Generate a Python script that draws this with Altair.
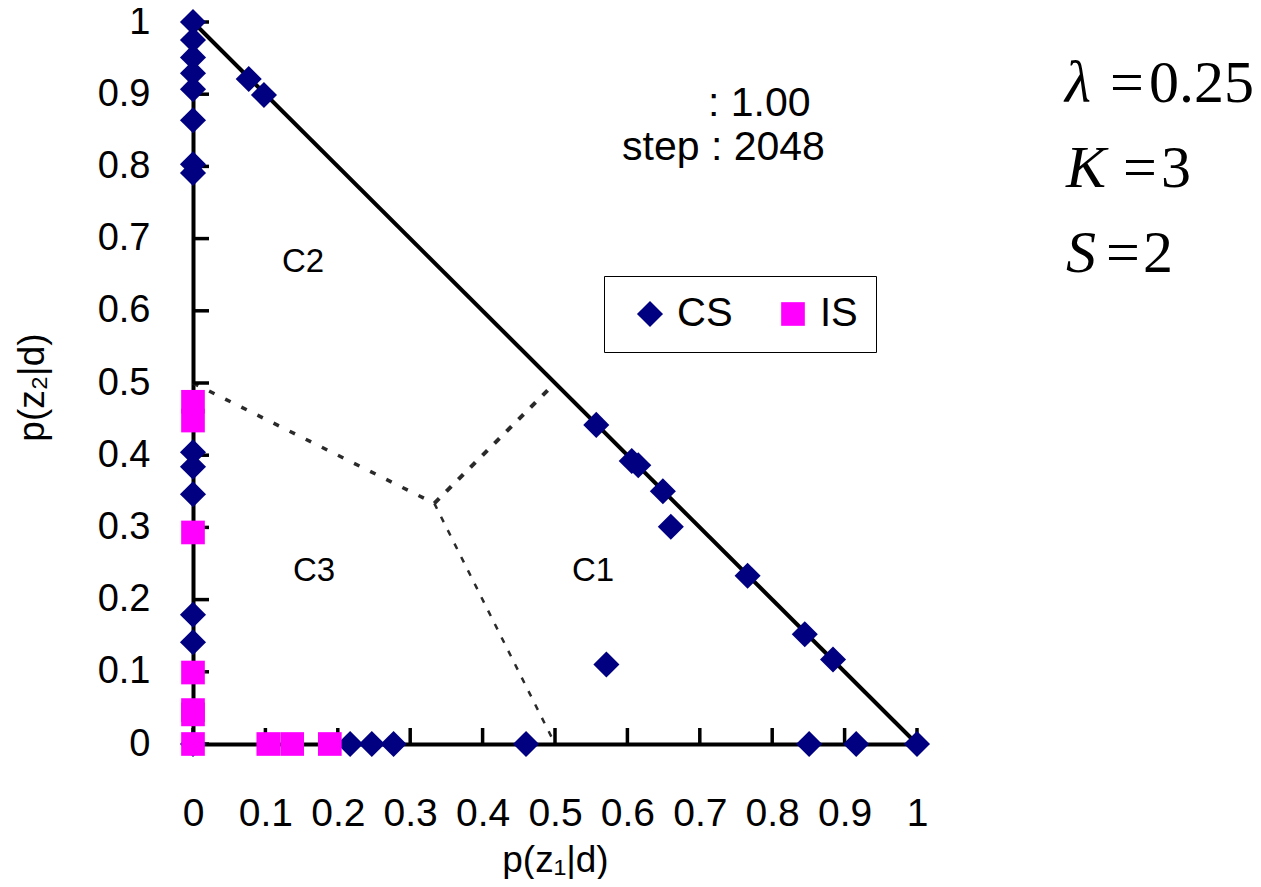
import altair as alt
import pandas as pd

# ---- data ----
cs_x = [0, 0, 0, 0, 0, 0, 0, 0, 0, 0, 0, 0, 0, 0,
        0.077, 0.098, 0.557, 0.606, 0.615, 0.649, 0.766, 0.845, 0.884, 1.0,
        0.660, 0.571,
        0.217, 0.247, 0.277, 0.460, 0.851, 0.916]
cs_y = [1.0, 0.975, 0.951, 0.929, 0.907, 0.864, 0.803, 0.791, 0.404, 0.384, 0.346, 0.179, 0.141, 0.0,
        0.921, 0.899, 0.442, 0.392, 0.386, 0.350, 0.233, 0.152, 0.117, 0.0,
        0.301, 0.110,
        0, 0, 0, 0, 0, 0]
is_x = [0, 0, 0, 0, 0, 0, 0, 0.104, 0.137, 0.189]
is_y = [0.474, 0.448, 0.293, 0.099, 0.047, 0.041, 0.0, 0, 0, 0]

series_names = ["CS", "IS"]
series_colors = ["#000080", "#FF00FF"]
series_shapes = ["diamond", "square"]

edge_x = [0, 1]
edge_y = [1, 0]

# region boundaries (C3|C2, C2|C1, C3|C1)
b1_x, b1_y = [0, 0.3333], [0.5, 0.3333]
b2_x, b2_y = [0.3333, 0.5], [0.3333, 0.5]
b3_x, b3_y = [0.3333, 0.5], [0.3333, 0.0]

tick_vals = [0, 0.1, 0.2, 0.3, 0.4, 0.5, 0.6, 0.7, 0.8, 0.9, 1]

pts = pd.DataFrame({
    "x": cs_x + is_x,
    "y": cs_y + is_y,
    "series": ["CS"] * len(cs_x) + ["IS"] * len(is_x),
})
edge = pd.DataFrame({"x": edge_x, "y": edge_y})
ticks = pd.DataFrame({"v": tick_vals})

W, H = 724, 722
FONT = "Liberation Sans"

xs = alt.Scale(domain=[0, 1], nice=False, zero=False)
ys = alt.Scale(domain=[0, 1], nice=False, zero=False)

x_axis = alt.Axis(values=tick_vals, format="~g", ticks=False, tickSize=0, grid=False,
                  domainColor="black", domainWidth=4, labelFlush=False, labelOverlap=False,
                  labelFont=FONT, labelFontSize=39, labelColor="black", labelPadding=50,
                  title="p(z₁|d)", titleFont=FONT, titleFontSize=37, titleFontWeight="normal",
                  titleColor="black", titleX=362, titleY=127, titleBaseline="alphabetic",
                  titleAlign="center")
y_axis = alt.Axis(values=tick_vals, format="~g", ticks=False, tickSize=0, grid=False,
                  domainColor="black", domainWidth=4, labelFlush=False, labelOverlap=False,
                  labelFont=FONT, labelFontSize=38, labelColor="black", labelPadding=43,
                  title="p(z₂|d)", titleFont=FONT, titleFontSize=37, titleFontWeight="normal",
                  titleColor="black", titleX=-150, titleY=365, titleAngle=270,
                  titleBaseline="alphabetic", titleAlign="center")

base_axes = alt.Chart(edge).mark_line(opacity=0).encode(
    x=alt.X("x:Q", scale=xs, axis=x_axis),
    y=alt.Y("y:Q", scale=ys, axis=y_axis),
)

diag = alt.Chart(edge).mark_line(color="black", strokeWidth=4).encode(
    x=alt.X("x:Q", scale=xs), y=alt.Y("y:Q", scale=ys))


def boundary(bx, by, dash, width):
    return alt.Chart(pd.DataFrame({"x": bx, "y": by})).mark_line(
        color="#2a2a2a", strokeWidth=width, strokeDash=dash).encode(
        x=alt.X("x:Q", scale=xs), y=alt.Y("y:Q", scale=ys))


bnd1 = boundary(b1_x, b1_y, [6, 12], 3.5)
bnd2 = boundary(b2_x, b2_y, [7, 10], 4)
bnd3 = boundary(b3_x, b3_y, [6, 9], 2.5)

xticks = alt.Chart(ticks).mark_rule(color="black", strokeWidth=3.5).encode(
    x=alt.X("v:Q", scale=xs), y=alt.value(H), y2=alt.value(H - 16))
yticks = alt.Chart(ticks).mark_rule(color="black", strokeWidth=3.5).encode(
    y=alt.Y("v:Q", scale=ys), x=alt.value(0), x2=alt.value(16))

points = alt.Chart(pts).mark_point(filled=True, opacity=1, strokeWidth=0).encode(
    x=alt.X("x:Q", scale=xs),
    y=alt.Y("y:Q", scale=ys),
    color=alt.Color("series:N", scale=alt.Scale(domain=series_names, range=series_colors),
                    legend=alt.Legend(title=None, orient="none", legendX=411, legendY=254,
                                      direction="horizontal", padding=18,
                                      strokeColor="black", fillColor="white",
                                      labelFont=FONT, labelFontSize=40, labelColor="black",
                                      labelOffset=7, columnPadding=32, symbolOffset=8)),
    shape=alt.Shape("series:N", scale=alt.Scale(domain=series_names, range=series_shapes)),
    size=alt.Size("series:N", scale=alt.Scale(domain=series_names, range=[680, 560])),
)


def txt(s, x, y, size, font=FONT, style="normal", align="left", baseline="alphabetic"):
    return alt.Chart(alt.Data(values=[{}])).mark_text(
        text=s, fontSize=size, font=font, fontStyle=style, align=align,
        baseline=baseline, color="black").encode(x=alt.value(x), y=alt.value(y))


SERIF = "Liberation Serif"
MS = 60
texts = [
    txt(": 1.00", 515, 94, 41),
    txt("step : 2048", 429, 138, 41),
    txt("C2", 110, 240, 33, align="center", baseline="middle"),
    txt("C3", 121, 549, 33, align="center", baseline="middle"),
    txt("C1", 400, 549, 33, align="center", baseline="middle"),
    txt("λ", 872, 80, MS, font=SERIF, style="italic"),
    txt("=", 917, 80, MS, font=SERIF),
    txt("0.25", 956, 80, MS, font=SERIF),
    txt("K", 873, 165, MS, font=SERIF, style="italic"),
    txt("=", 930, 165, MS, font=SERIF),
    txt("3", 968, 165, MS, font=SERIF),
    txt("S", 873, 250, MS, font=SERIF, style="italic"),
    txt("=", 913, 250, MS, font=SERIF),
    txt("2", 950, 250, MS, font=SERIF),
]

chart = alt.layer(base_axes, bnd1, bnd2, bnd3, diag, xticks, yticks, points, *texts).properties(
    width=W, height=H,
    padding={"left": 185, "top": 14, "right": 336, "bottom": 135},
    autosize=alt.AutoSizeParams(type="none"),
    background="white",
).configure_view(stroke=None)

chart.save("out.html", embed_options={"renderer": "svg", "actions": False})
